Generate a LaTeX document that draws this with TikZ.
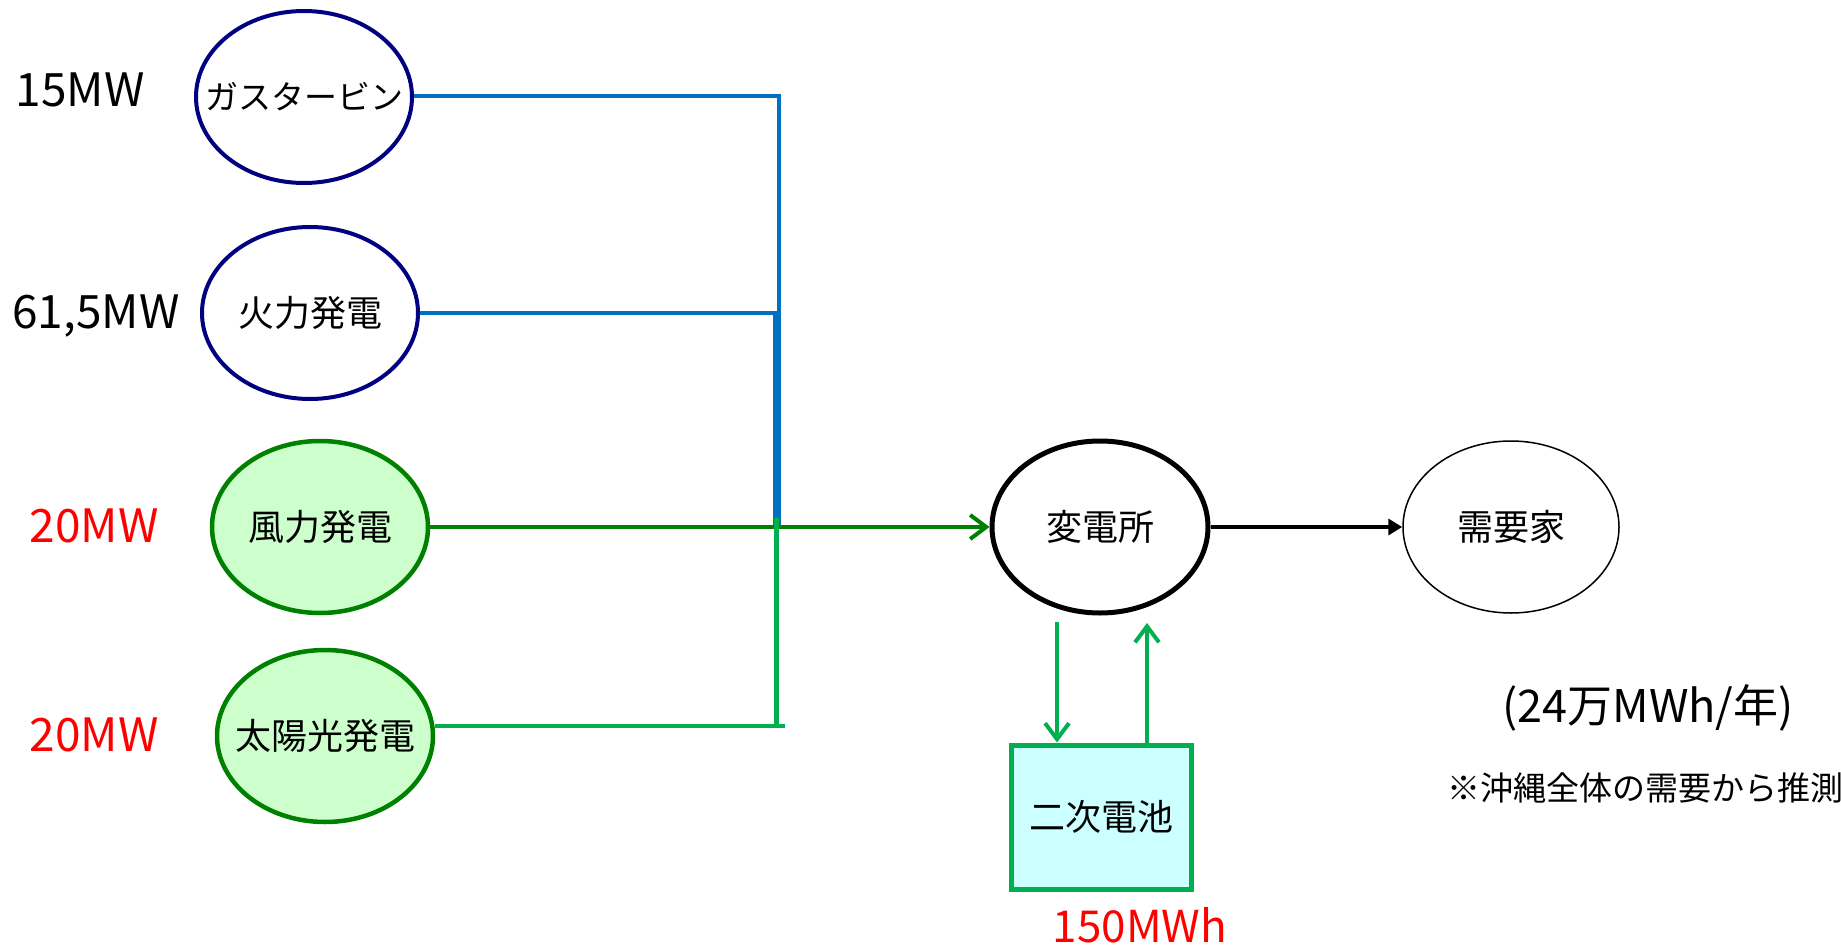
\documentclass[tikz,border=0pt]{standalone}
\usepackage{fontspec}
\setmainfont{Noto Sans CJK JP}
\usetikzlibrary{shapes.geometric,arrows.meta,calc}
\definecolor{navy}{HTML}{000080}
\definecolor{lineblue}{HTML}{0070C0}
\definecolor{dgreen}{HTML}{008000}
\definecolor{lgreen}{HTML}{00B050}
\definecolor{fillgreen}{HTML}{CCFFCC}
\definecolor{fillcyan}{HTML}{CCFFFF}
\begin{document}
\begin{tikzpicture}[x=1pt,y=-1pt,
  gen/.style={ellipse,minimum width=216pt,minimum height=172pt,inner sep=0pt,
    label={[font=\fontsize{36pt}{40pt}\selectfont,inner sep=0pt]center:#1}},
  plant/.style={gen=#1,draw=navy,line width=4pt,fill=white},
  green plant/.style={gen=#1,draw=dgreen,line width=4.5pt,fill=fillgreen},
  caplabel/.style={font=\fontsize{46pt}{50pt}\selectfont,inner sep=0pt},
  capred/.style={caplabel,text=red},
  blueline/.style={draw=lineblue,line width=4.5pt},
  gline/.style={draw=lgreen,line width=4.5pt},
  barb/.style={-{Straight Barb[length=16pt,width=24pt,line width=4pt]}},
  garrow/.style={draw=lgreen,line width=3.5pt,barb},
]
\useasboundingbox (0,0) rectangle (1841,947);

% generators
\node[plant={\fontsize{33pt}{36pt}\selectfont ガスタービン}] (gas) at (304,97) {};
\node[plant={火力発電}] (fire) at (310,313) {};
\node[green plant={風力発電}] (wind) at (320,527) {};
\node[green plant={太陽光発電}] (solar) at (325,736) {};

% capacities
\node[caplabel] (c1) at (80,90) {15MW};
\node[caplabel] (c2) at (96,316) {61,5MW};
\node[capred] (c3) at (94,526) {20MW};
\node[capred] (c4) at (94,735) {20MW};

% substation, consumers, battery
\node[gen={変電所},draw=black,line width=5pt,fill=white] (sub) at (1100,527) {};
\node[gen={需要家},draw=black,line width=1.5pt,fill=white] (cons) at (1511,527) {};
\node[draw=lgreen,line width=5pt,fill=fillcyan,minimum width=180pt,minimum height=144pt,
  inner sep=0pt,font=\fontsize{36pt}{40pt}\selectfont] (bat) at (1101.5,817) {二次電池};

\node[capred,font=\fontsize{44pt}{48pt}\selectfont] (batcap) at (1140,925) {150MWh};
\node[font=\fontsize{45pt}{48pt}\selectfont,inner sep=0pt] (annual) at (1648,708) {(24万MWh/年)};
\node[font=\fontsize{33pt}{36pt}\selectfont,inner sep=0pt] (note) at (1645,788) {※沖縄全体の需要から推測};

% bus
\coordinate (bustop) at (779,96);
\coordinate (busfire) at (777,313);
\coordinate (busmid) at (777,527);
\coordinate (gtop) at (776.5,518);
\coordinate (busbot) at (776.5,726);
\coordinate (busend) at (785,726);

\draw[blueline] (gas.east |- bustop) -- (bustop) -- (bustop |- busfire);
\draw[blueline] (fire.east) -- (busfire);
\draw[draw=lineblue,line width=8pt] (busfire) -- (busmid);
\draw[draw=dgreen,line width=4.5pt,barb] (wind.east) -- (sub.west);
\draw[gline] (gtop) -- (busbot);
\draw[gline] (solar.east |- busend) -- (busend);

\draw[draw=black,line width=4pt,-{Triangle[length=14pt,width=16pt]}] (sub.east) -- (cons.west);

% battery arrows
\coordinate (dtop) at (1057,622);
\coordinate (utop) at (1147,623);
\draw[garrow] (dtop) -- (dtop |- bat.north);
\draw[garrow] (utop |- bat.north) -- (utop);
\end{tikzpicture}
\end{document}
